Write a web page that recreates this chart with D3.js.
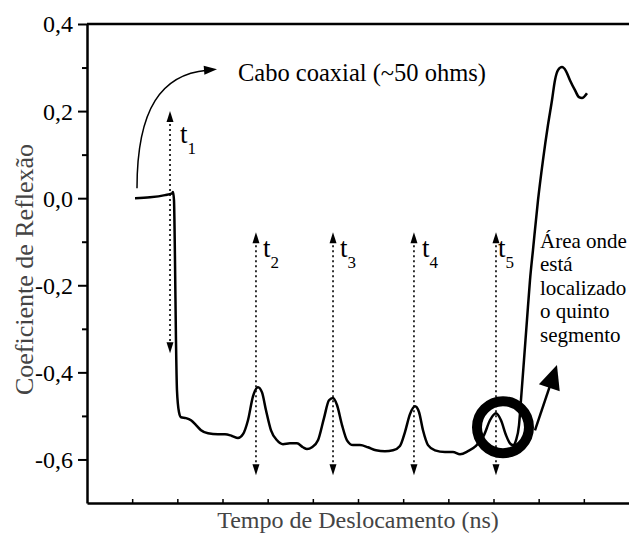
<!DOCTYPE html>
<html>
<head>
<meta charset="utf-8">
<script src="https://cdn.jsdelivr.net/npm/d3@7"></script>
</head>
<body style="margin:0;background:#fff">
<div id="chart"></div>
<script>
// TDR trace (time in tick units, reflection coefficient)
const timeVals = [1.063, 1.395, 1.727, 1.882, 1.904, 1.926, 1.948, 1.970, 1.992, 2.036, 2.081, 2.192,
  2.302, 2.413, 2.524, 2.679, 2.900, 3.055, 3.210, 3.343, 3.454, 3.564, 3.675, 3.786, 3.875, 3.963,
  4.074, 4.207, 4.339, 4.494, 4.649, 4.782, 4.871, 4.981, 5.114, 5.247, 5.358, 5.446, 5.535, 5.646,
  5.756, 5.889, 6.044, 6.221, 6.398, 6.597, 6.775, 6.929, 7.040, 7.151, 7.262, 7.350, 7.439, 7.550,
  7.705, 7.926, 8.103, 8.258, 8.435, 8.612, 8.790, 8.922, 9.055, 9.166, 9.276, 9.365, 9.432, 9.498,
  9.565, 9.608, 9.675, 9.741, 9.808, 9.874, 9.985, 10.095, 10.206, 10.295, 10.361, 10.428, 10.516,
  10.605, 10.693, 10.804, 10.892, 10.959, 11.070];
const reflVals = [0.000, 0.002, 0.007, 0.011, 0.014, -0.005, -0.142, -0.326, -0.441, -0.491, -0.503, -0.505,
  -0.510, -0.521, -0.533, -0.540, -0.542, -0.542, -0.546, -0.551, -0.542, -0.510, -0.455, -0.434, -0.446, -0.487,
  -0.533, -0.556, -0.565, -0.563, -0.563, -0.572, -0.576, -0.572, -0.556, -0.505, -0.464, -0.459, -0.475, -0.521,
  -0.556, -0.567, -0.567, -0.572, -0.579, -0.581, -0.579, -0.569, -0.537, -0.496, -0.478, -0.491, -0.533, -0.567,
  -0.579, -0.583, -0.583, -0.588, -0.581, -0.569, -0.544, -0.510, -0.494, -0.510, -0.544, -0.563, -0.567, -0.556,
  -0.521, -0.464, -0.372, -0.280, -0.188, -0.119, -0.005, 0.087, 0.168, 0.225, 0.271, 0.294, 0.301,
  0.292, 0.271, 0.248, 0.232, 0.230, 0.241];

// y axis ticks
const yMajorTicks = [0.4, 0.2, 0.0, -0.2, -0.4, -0.6];
const yMinorTicks = [0.3, 0.1, -0.1, -0.3, -0.5];
const xTicks = [1, 2, 3, 4, 5, 6, 7, 8, 9, 10, 11];

// t1..t5 markers (time, arrow top, arrow bottom, label baseline)
const markerNames = ["1", "2", "3", "4", "5"];
const markerTime = [1.838, 3.741, 5.447, 7.239, 9.055];
const markerTop = [0.200, -0.078, -0.078, -0.078, -0.078];
const markerBottom = [-0.356, -0.636, -0.636, -0.636, -0.636];
const markerLabelY = [0.126, -0.135, -0.135, -0.135, -0.135];

const coaxText = "Cabo coaxial (~50 ohms)";
const areaLines = ["Área onde", "está", "localizado", "o quinto", "segmento"];

const FONT = "Liberation Serif";

const svgWidth = 629, svgHeight = 533;
const margin = { top: 24, right: 0, bottom: 30, left: 87 };

const svg = d3.select("#chart").append("svg")
  .attr("width", svgWidth)
  .attr("height", svgHeight)
  .style("font-family", FONT);

const x = d3.scaleLinear().domain([0, 12]).range([margin.left, svgWidth - margin.right]);
const y = d3.scaleLinear().domain([-0.7, 0.4]).range([svgHeight - margin.bottom, margin.top]);

const fmt = d => d.toFixed(1).replace(".", ",");

// left axis, ticks outward
const yAxis = svg.append("g")
  .attr("transform", `translate(${margin.left},0)`)
  .call(d3.axisLeft(y).tickValues(yMajorTicks).tickFormat(fmt).tickSize(9).tickSizeOuter(0));
yAxis.attr("font-family", null).attr("font-size", null);
yAxis.select(".domain").attr("stroke-width", 2.5);
yAxis.selectAll(".tick line").attr("stroke-width", 2);
yAxis.selectAll(".tick text")
  .attr("x", -14)
  .attr("dy", "0.33em")
  .style("font-size", "24px")
  .style("font-family", FONT)
  .attr("fill", "#000");

const yMinor = svg.append("g")
  .attr("transform", `translate(${margin.left},0)`)
  .call(d3.axisLeft(y).tickValues(yMinorTicks).tickFormat("").tickSize(5).tickSizeOuter(0));
yMinor.select(".domain").remove();
yMinor.selectAll(".tick line").attr("stroke-width", 2);

// bottom axis, small ticks inward, no labels
const xAxis = svg.append("g")
  .attr("transform", `translate(0,${y(-0.7)})`)
  .call(d3.axisBottom(x).tickValues(xTicks).tickFormat("").tickSize(-4).tickSizeOuter(0));
xAxis.select(".domain").attr("stroke-width", 2.5);
xAxis.selectAll(".tick line").attr("stroke-width", 1.5);

// top frame line
svg.append("line")
  .attr("x1", x(0)).attr("x2", x(12))
  .attr("y1", y(0.4)).attr("y2", y(0.4))
  .attr("stroke", "#000").attr("stroke-width", 2.5);

// axis titles
svg.append("text")
  .attr("x", (x(0) + x(12)) / 2)
  .attr("y", 528)
  .attr("text-anchor", "middle")
  .style("font-family", FONT)
  .style("font-size", "24px")
  .attr("fill", "#444")
  .text("Tempo de Deslocamento (ns)");

svg.append("text")
  .attr("transform", `translate(33,${(y(0.4) + y(-0.7)) / 2 + 6}) rotate(-90)`)
  .attr("text-anchor", "middle")
  .style("font-family", FONT)
  .style("font-size", "26px")
  .attr("fill", "#444")
  .text("Coeficiente de Reflexão");

// marker arrows
function arrowHead(g, tipX, tipY, dx, dy, len, half) {
  const n = Math.hypot(dx, dy), ux = dx / n, uy = dy / n;
  const bx = tipX - ux * len, by = tipY - uy * len;
  g.append("path")
    .attr("d", `M${tipX},${tipY}L${bx - uy * half},${by + ux * half}L${bx + uy * half},${by - ux * half}Z`)
    .attr("fill", "#000");
}

const markers = svg.append("g");
markerNames.forEach((name, i) => {
  const mx = x(markerTime[i]);
  const top = y(markerTop[i]), bot = y(markerBottom[i]);
  markers.append("line")
    .attr("x1", mx).attr("x2", mx)
    .attr("y1", top + 8).attr("y2", bot - 8)
    .attr("stroke", "#000").attr("stroke-width", 1.6)
    .attr("stroke-dasharray", "2,3");
  arrowHead(markers, mx, top, 0, -1, 11, 3.5);
  arrowHead(markers, mx, bot, 0, 1, 11, 3.5);
});

const labelDx = [10, 7, 7, 8, 2];
markerNames.forEach((name, i) => {
  const t = svg.append("text")
    .attr("x", x(markerTime[i]) + labelDx[i])
    .attr("y", y(markerLabelY[i]))
    .style("font-family", FONT)
    .style("font-size", "27px");
  t.append("tspan").text("t");
  t.append("tspan").attr("dy", 11).style("font-size", "17px").text(name);
});

// the trace
const pts = timeVals.map((t, i) => [t, reflVals[i]]);
svg.append("path")
  .datum(pts)
  .attr("fill", "none")
  .attr("stroke", "#000")
  .attr("stroke-width", 2.5)
  .attr("stroke-linejoin", "round")
  .attr("d", d3.line().x(d => x(d[0])).y(d => y(d[1])).curve(d3.curveMonotoneX));

// curved arrow to the coax label
const c0 = [x(1.107), y(0.023)], c1 = [x(2.878), y(0.296)];
svg.append("path")
  .attr("d", `M${c0[0]},${c0[1]}C${c0[0]},${c0[1] - 80} ${c0[0] + 25},${c1[1] + 5} ${c1[0] - 10},${c1[1] + 1}`)
  .attr("fill", "none").attr("stroke", "#000").attr("stroke-width", 1.5);
arrowHead(svg, c1[0], c1[1], 1, -0.08, 13, 4.5);

svg.append("text")
  .attr("x", 238).attr("y", 81)
  .style("font-family", FONT)
  .style("font-size", "24.5px")
  .text(coaxText);

// circle around the fifth peak and its arrow
svg.append("circle")
  .attr("cx", x(9.21)).attr("cy", y(-0.526))
  .attr("r", 26)
  .attr("fill", "none").attr("stroke", "#000").attr("stroke-width", 10);

const a0 = [x(9.918), y(-0.533)], a1 = [x(10.405), y(-0.383)];
svg.append("line")
  .attr("x1", a0[0]).attr("y1", a0[1])
  .attr("x2", a0[0] + (a1[0] - a0[0]) * 0.7).attr("y2", a0[1] + (a1[1] - a0[1]) * 0.7)
  .attr("stroke", "#000").attr("stroke-width", 2.5);
arrowHead(svg, a1[0], a1[1], a1[0] - a0[0], a1[1] - a0[1], 24, 11);

const area = svg.append("text")
  .attr("x", 540).attr("y", 248)
  .style("font-family", FONT)
  .style("font-size", "21px");
areaLines.forEach((s, i) => {
  area.append("tspan").attr("x", 540).attr("dy", i === 0 ? 0 : 23.4).text(s);
});
</script>
</body>
</html>
